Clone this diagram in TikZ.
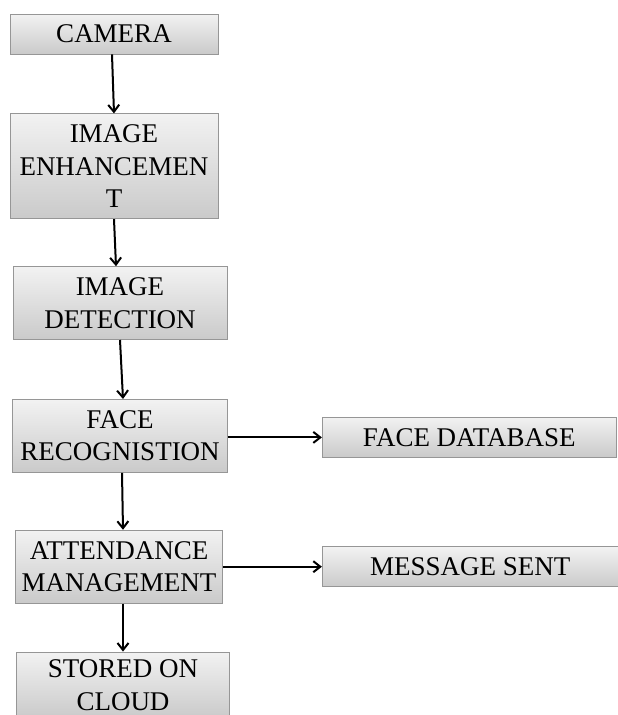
\documentclass[tikz,border=0pt]{standalone}
\usepackage{fontspec}
\setmainfont{Liberation Serif}
\usetikzlibrary{positioning,arrows.meta}
\definecolor{boxtop}{RGB}{242,242,242}
\definecolor{boxbot}{RGB}{202,202,202}
\definecolor{boxline}{RGB}{150,150,150}
\tikzset{
  stage/.style = {draw=boxline, line width=0.8pt, top color=boxtop, bottom color=boxbot,
                  align=center, inner sep=0pt, font=\fontsize{27}{32.5}\selectfont},
  flow/.style  = {-{Straight Barb[length=7pt,width=11pt]}, line width=2pt, black},
}
\begin{document}
\begin{tikzpicture}[x=1pt, y=1pt]
\useasboundingbox (0,0) rectangle (618,-715);

% ---------- main column ----------
\node[stage, minimum width=208pt, minimum height=40pt] (cam) at (114,-34) {CAMERA};
\node[stage, minimum width=208pt, minimum height=105pt, below=59pt of cam] (enh) {IMAGE\\ENHANCEMEN\\T};
\node[stage, minimum width=214pt, minimum height=73pt, below=47pt of enh, xshift=6pt] (det) {IMAGE\\DETECTION};
\node[stage, minimum width=215pt, minimum height=73pt, below=59pt of det] (rec) {FACE\\RECOGNISTION};
\node[stage, minimum width=207pt, minimum height=73pt, below=57pt of rec, xshift=-1pt] (att) {ATTENDANCE\\MANAGEMENT};
\node[stage, minimum width=213pt, minimum height=66pt, below=47pt of att, xshift=4pt, yshift=-1pt] (cloud) {STORED ON\\CLOUD};

% ---------- side outputs ----------
\node[stage, minimum width=294pt, minimum height=40pt, right=94pt of rec, yshift=-1.5pt] (db) {FACE DATABASE};
\node[stage, minimum width=296pt, minimum height=40pt, right=99pt of att] (msg) {MESSAGE SENT};

\draw[flow] ([xshift=-2pt]cam.south) -- (enh.north);
\draw[flow] (enh.south) -- ([xshift=-4pt]det.north);
\draw[flow] (det.south) -- ([xshift=3pt]rec.north);
\draw[flow] ([xshift=2pt]rec.south) -- ([xshift=4pt]att.north);
\draw[flow] ([xshift=4pt]att.south) -- (cloud.north);
\draw[flow] (db.west -| rec.east) -- (db.west);
\draw[flow] (att.east) -- (msg.west);

\end{tikzpicture}
\end{document}
